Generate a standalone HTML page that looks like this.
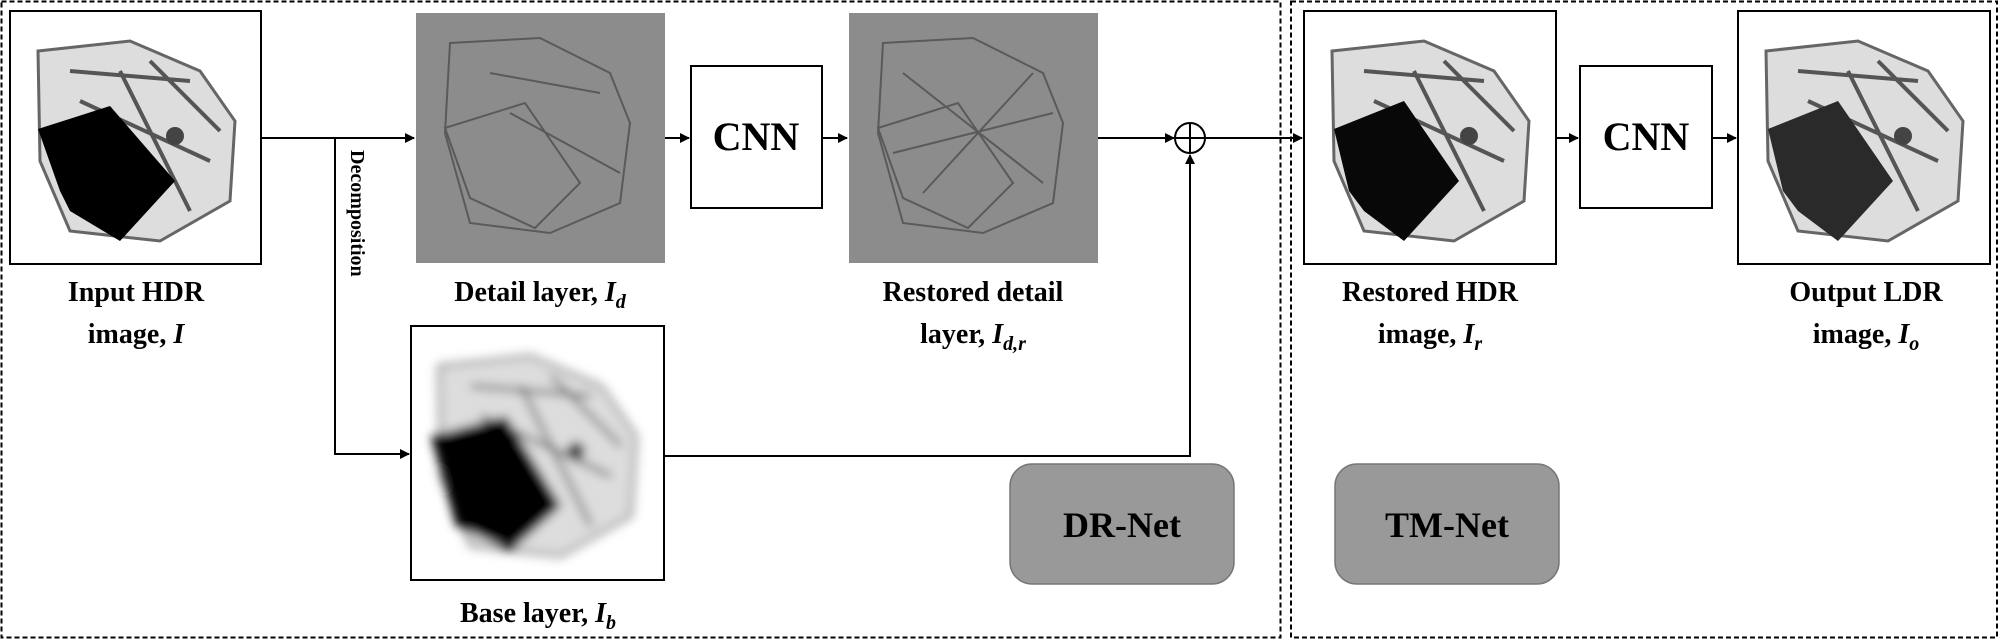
<!DOCTYPE html>
<html><head><meta charset="utf-8"><style>
html,body{margin:0;padding:0;background:#fff;width:1999px;height:640px;overflow:hidden}
text{font-family:"Liberation Serif",serif;font-weight:bold;fill:#000}
</style></head><body>
<svg width="1999" height="640" viewBox="0 0 1999 640" xmlns="http://www.w3.org/2000/svg">
<defs>
<marker id="ar" markerWidth="10" markerHeight="10" refX="9" refY="5" orient="auto" markerUnits="userSpaceOnUse">
<path d="M0,0 L10,5 L0,10 z" fill="#000"/></marker>
<filter id="bl"><feGaussianBlur stdDeviation="5"/></filter>
<g id="xray">
<path d="M28,40 L120,30 L190,60 L225,110 L220,190 L150,230 L60,220 L30,150 z" fill="#ddd" stroke="#666" stroke-width="3"/>
<path d="M60,60 L180,70 M70,90 L200,150 M110,60 L180,200 M140,50 L210,120" stroke="#555" stroke-width="4" fill="none"/>
<circle cx="165" cy="125" r="9" fill="#444"/>
</g>
</defs>
<rect x="1.5" y="1.5" width="1279" height="636" fill="none" stroke="#000" stroke-width="2" stroke-dasharray="5,3"/>
<rect x="1291" y="1.5" width="706" height="636" fill="none" stroke="#000" stroke-width="2" stroke-dasharray="5,3"/>

<rect x="10" y="11" width="251" height="253" fill="#fff" stroke="#000" stroke-width="2"/>
<g transform="translate(10,11)"><use href="#xray"/><path d="M28,118 L100,95 L165,170 L110,230 L60,200 L50,180 z" fill="#000"/></g>
<text x="136" y="301" font-size="28" text-anchor="middle">Input HDR</text>
<text x="136" y="343" font-size="28" text-anchor="middle">image, <tspan font-style="italic">I</tspan></text>

<rect x="416" y="13" width="249" height="250" fill="#8c8c8c"/>
<g transform="translate(430,13)" fill="none" stroke="#5a5a5a" stroke-width="2">
<path d="M20,30 L110,25 L180,60 L200,110 L190,190 L120,220 L40,210 L15,120 z"/>
<path d="M15,115 L95,90 L150,170 L105,215 L40,185 z"/>
<path d="M60,60 L170,80 M80,100 L190,160"/>
</g>
<text x="540" y="301" font-size="28" text-anchor="middle">Detail layer, <tspan font-style="italic">I<tspan font-size="20" dy="7">d</tspan></tspan></text>

<rect x="691" y="66" width="131" height="142" fill="#fff" stroke="#000" stroke-width="2"/>
<text x="756" y="150" font-size="40" text-anchor="middle">CNN</text>

<rect x="849" y="13" width="249" height="250" fill="#8c8c8c"/>
<g transform="translate(863,13)" fill="none" stroke="#5a5a5a" stroke-width="2">
<path d="M20,30 L110,25 L180,60 L200,110 L190,190 L120,220 L40,210 L15,120 z"/>
<path d="M15,115 L95,90 L150,170 L105,215 L40,185 z"/>
<path d="M40,60 L180,170 M60,180 L170,60 M30,140 L190,100"/>
</g>
<text x="973" y="301" font-size="28" text-anchor="middle">Restored detail</text>
<text x="973" y="343" font-size="28" text-anchor="middle">layer,  <tspan font-style="italic">I<tspan font-size="20" dy="7">d,r</tspan></tspan></text>

<rect x="411" y="326" width="253" height="254" fill="#fff" stroke="#000" stroke-width="2"/>
<g transform="translate(411,326)" filter="url(#bl)"><use href="#xray"/><path d="M20,110 L95,90 L150,180 L100,225 L45,200 z" fill="#000"/></g>
<text x="538" y="622" font-size="28" text-anchor="middle">Base layer, <tspan font-style="italic">I<tspan font-size="20" dy="7">b</tspan></tspan></text>

<line x1="261" y1="138" x2="414" y2="138" stroke="#000" stroke-width="2" marker-end="url(#ar)"/>
<polyline points="335,138 335,454 409,454" fill="none" stroke="#000" stroke-width="2" marker-end="url(#ar)"/>
<text transform="translate(351,150) rotate(90)" font-size="20">Decomposition</text>
<line x1="665" y1="138" x2="689" y2="138" stroke="#000" stroke-width="2" marker-end="url(#ar)"/>
<line x1="822" y1="138" x2="847" y2="138" stroke="#000" stroke-width="2" marker-end="url(#ar)"/>
<line x1="1098" y1="138" x2="1174" y2="138" stroke="#000" stroke-width="2" marker-end="url(#ar)"/>
<circle cx="1190" cy="138" r="15" fill="#fff" stroke="#000" stroke-width="2"/>
<line x1="1175" y1="138" x2="1205" y2="138" stroke="#000" stroke-width="2"/>
<line x1="1190" y1="123" x2="1190" y2="153" stroke="#000" stroke-width="2"/>
<polyline points="664,456 1190,456 1190,155" fill="none" stroke="#000" stroke-width="2" marker-end="url(#ar)"/>
<line x1="1205" y1="138" x2="1302" y2="138" stroke="#000" stroke-width="2" marker-end="url(#ar)"/>

<rect x="1304" y="11" width="252" height="253" fill="#fff" stroke="#000" stroke-width="2"/>
<g transform="translate(1304,11)"><use href="#xray"/><path d="M30,118 L100,90 L155,170 L100,230 L60,200 L45,180 z" fill="#080808"/></g>
<text x="1430" y="301" font-size="28" text-anchor="middle">Restored HDR</text>
<text x="1430" y="343" font-size="28" text-anchor="middle">image, <tspan font-style="italic">I<tspan font-size="20" dy="7">r</tspan></tspan></text>

<line x1="1556" y1="138" x2="1578" y2="138" stroke="#000" stroke-width="2" marker-end="url(#ar)"/>
<rect x="1580" y="66" width="132" height="142" fill="#fff" stroke="#000" stroke-width="2"/>
<text x="1646" y="150" font-size="40" text-anchor="middle">CNN</text>
<line x1="1712" y1="138" x2="1736" y2="138" stroke="#000" stroke-width="2" marker-end="url(#ar)"/>

<rect x="1738" y="11" width="252" height="253" fill="#fff" stroke="#000" stroke-width="2"/>
<g transform="translate(1738,11)"><use href="#xray"/><path d="M30,118 L100,90 L155,170 L100,230 L60,200 L45,180 z" fill="#2a2a2a"/></g>
<text x="1866" y="301" font-size="28" text-anchor="middle">Output LDR</text>
<text x="1866" y="343" font-size="28" text-anchor="middle">image, <tspan font-style="italic">I<tspan font-size="20" dy="7">o</tspan></tspan></text>

<rect x="1010" y="464" width="224" height="120" rx="22" fill="#999" stroke="#777" stroke-width="1.5"/>
<text x="1122" y="537" font-size="36" text-anchor="middle">DR-Net</text>
<rect x="1335" y="464" width="224" height="120" rx="22" fill="#999" stroke="#777" stroke-width="1.5"/>
<text x="1447" y="537" font-size="36" text-anchor="middle">TM-Net</text>
</svg>
</body></html>
